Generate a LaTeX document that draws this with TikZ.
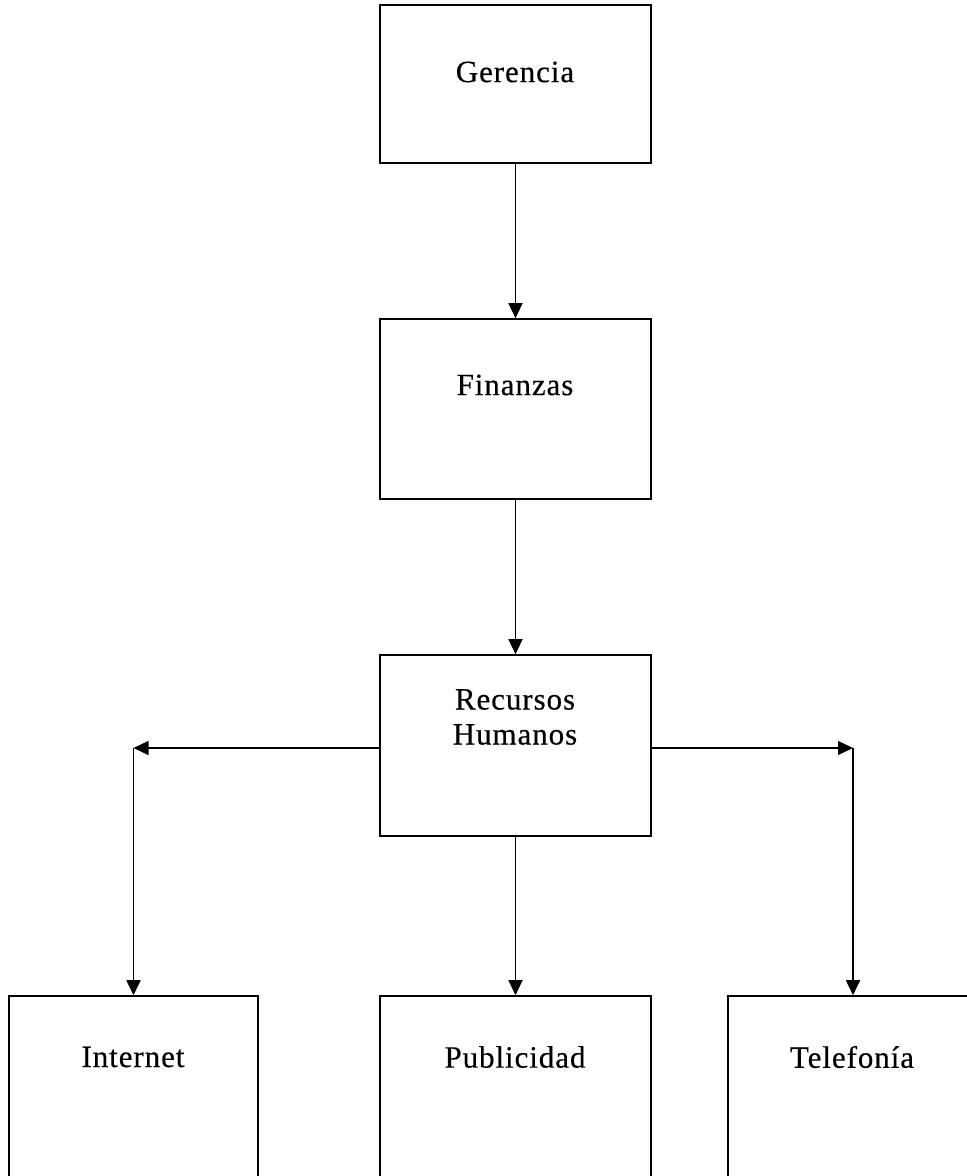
\documentclass[tikz,border=0pt]{standalone}
\usepackage{fontspec}
\setmainfont[LetterSpace=3,FakeBold=0.4]{Liberation Serif}
\usetikzlibrary{arrows.meta}
\begin{document}
\begin{tikzpicture}[x=1pt,y=-1pt,
  box/.style={draw=black, line width=1.6pt, rectangle, inner sep=0pt, fill=none},
  lbl/.style={inner sep=0pt, font=\fontsize{31}{35}\selectfont, align=center},
  conn/.style={draw=black, line width=1.2pt, -{Triangle[length=15pt,width=14pt]}},
  vconn/.style={conn, line width=1.8pt}]
\useasboundingbox (0,0) rectangle (967,1176);
\clip (0,0) rectangle (967,1176);
\fill[white] (0,0) rectangle (967,1176);
% boxes
\node[box, minimum width=271pt, minimum height=158pt] (ger) at (515.5,84) {};
\node[box, minimum width=271pt, minimum height=180pt] (fin) at (515.5,409) {};
\node[box, minimum width=271pt, minimum height=181pt] (rh) at (515.5,745.5) {};
\node[box, minimum width=249pt, minimum height=220pt] (int) at (133.5,1106) {};
\node[box, minimum width=271pt, minimum height=220pt] (pub) at (515.5,1106) {};
\node[box, minimum width=250pt, minimum height=220pt] (tel) at (853,1106) {};
% labels
\node[lbl] (tger) at (515,72) {Gerencia};
\node[lbl] (tfin) at (515,385) {Finanzas};
\node[lbl] (trh) at (515,717) {Recursos\\Humanos};
\node[lbl] (tint) at (133,1057) {Internet};
\node[lbl] (tpub) at (515,1057) {Publicidad};
\node[lbl] (ttel) at (852,1057) {Telefonía};
% corner points
\coordinate (cl) at (133.5,748);
\coordinate (cr) at (853,748);
\coordinate (rhl) at (380,748);
\coordinate (rhr) at (651,748);
% connectors
\draw[conn] (ger.south) -- (fin.north);
\draw[conn] (fin.south) -- (rh.north);
\draw[conn] (rh.south) -- (pub.north);
\draw[conn] (rhl) -- (cl);
\draw[vconn] (cl) -- (int.north);
\draw[conn] (rhr) -- (cr);
\draw[vconn] (cr) -- (tel.north);
\end{tikzpicture}
\end{document}
